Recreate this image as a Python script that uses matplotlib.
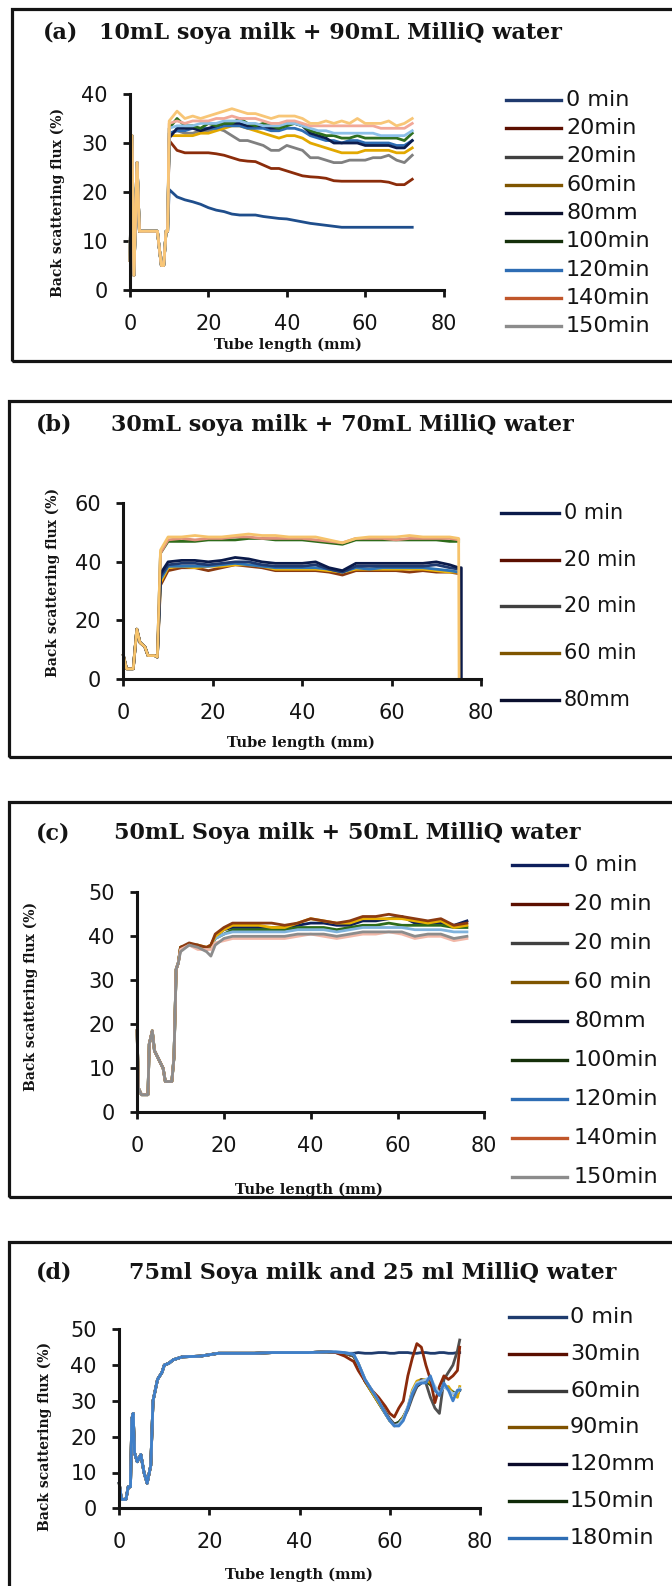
import numpy as np
import matplotlib
matplotlib.use('Agg')
import matplotlib.pyplot as plt
from matplotlib.lines import Line2D
from matplotlib.patches import Rectangle

# ------------------------------------------------------------
# data: back scattering flux (%) vs tube length (mm)
# ------------------------------------------------------------

# (a) 10 mL soya milk + 90 mL MilliQ water
a_x_start = [0, 0.5, 1, 1.8, 2.4, 4, 7, 7.4, 8, 8.6, 9.2, 9.6]
a_y_start = [6, 31.5, 3, 26, 12, 12, 12, 9, 5, 5, 12, 12]
a_x = list(range(10, 73, 2))
a_0min = [20.5, 19, 18.4, 18, 17.5, 16.8, 16.3, 16, 15.5, 15.3, 15.3, 15.3, 15, 14.8, 14.6, 14.5,
          14.2, 13.9, 13.6, 13.4, 13.2, 13, 12.8, 12.8, 12.8, 12.8, 12.8, 12.8, 12.8, 12.8, 12.8, 12.8]
a_20min = [30.5, 28.5, 28, 28, 28, 28, 27.8, 27.5, 27, 26.5, 26.3, 26.2, 25.5, 24.8, 24.8, 24.3,
           23.8, 23.3, 23.1, 23, 22.8, 22.3, 22.2, 22.2, 22.2, 22.2, 22.2, 22.2, 22, 21.5, 21.5, 22.6]
a_150min = [32, 32.5, 32, 32, 32.5, 32.5, 33, 32.5, 31.5, 30.5, 30.5, 30, 29.5, 28.5, 28.5, 29.5,
            29, 28.5, 27, 27, 26.5, 26, 26, 26.5, 26.5, 26.5, 27, 27, 27.5, 26.5, 26, 27.5]
a_60min = [31.5, 31.5, 31.5, 31.5, 32, 32, 32.5, 33, 33.5, 33.5, 33, 32.5, 32, 31.5, 31, 31.5,
           31.5, 31, 30, 29.5, 29, 28.5, 28, 28, 28, 28.5, 28.5, 28.5, 28.5, 28, 28, 29]
a_80min = [31, 33, 33, 33, 32.5, 33, 33.5, 34, 34, 34, 33.5, 33.5, 33.5, 33, 33, 34,
           34, 33.5, 32, 31.5, 31, 30, 30, 30, 30, 29.5, 29.5, 29.5, 29.5, 29, 29, 30.5]
a_100min = [33, 35, 33.5, 33.5, 33, 34, 33.5, 34, 34, 35, 34, 33.5, 34, 33.5, 33, 33.5,
            34, 33.5, 32.5, 32, 31.5, 31.5, 31, 31, 31.5, 31, 31, 31, 31, 31, 30.5, 32]
a_120min = [32, 32.5, 32.5, 33, 33, 33, 33, 33.5, 33.5, 33.5, 33, 33, 33, 32.5, 32.5, 33,
            33, 32.5, 31.5, 31, 30.5, 30.5, 30, 30.5, 30.5, 30, 30, 30, 30, 29.5, 29.5, 30.5]
a_140min = [34, 34.5, 34, 34.5, 34.5, 34.5, 35, 35, 35.5, 35, 35, 35, 34.5, 34, 34, 34.5,
            34.5, 34, 33.5, 33.5, 33.5, 33.5, 33.5, 33.5, 33.5, 33.5, 33.5, 33, 33, 33, 33, 34]
a_160min = [33, 33.5, 33.5, 33.5, 34, 34, 34, 34.5, 34.5, 34.5, 34, 34, 33.5, 33.5, 33.5, 34,
            34, 33.5, 33, 32.5, 32.5, 32, 32, 32, 32, 32, 32, 31.5, 31.5, 31.5, 31.5, 32.5]
a_180min = [34.5, 36.5, 35, 35.5, 35, 35.5, 36, 36.5, 37, 36.5, 36, 36, 35.5, 35, 35.5, 35.5,
            35.5, 35, 34, 34, 34.5, 34, 34.5, 34, 35, 34, 34, 34, 34.5, 33.5, 34, 35]
a_labels = ['0 min', '20min', '20min', '60min', '80mm', '100min', '120min', '140min', '150min']

# (b) 30 mL soya milk + 70 mL MilliQ water
b_x_start = [0, 0.7, 2.2, 3, 3.7, 4.8, 5.5, 7, 7.6]
b_y_start = [8, 3.5, 3.5, 17, 12.5, 11, 8, 8, 7.5]
b_x = [8.3, 10, 13, 16, 19, 22, 25, 28, 31, 34, 37, 40, 43, 46, 49, 52, 55, 58, 61, 64, 67, 70, 73, 75]
b_0min = [36, 40, 40.5, 40.5, 40, 40.5, 41.5, 41, 40, 39.5, 39.5, 39.5, 40, 38, 37, 39.5,
          39.5, 39.5, 39.5, 39.5, 39.5, 40, 39, 38]
b_20min = [32, 37, 38, 38, 37, 38, 39, 38.5, 38, 37, 37, 37, 37, 36.5, 35.5, 37,
           37, 37, 37, 36.5, 37, 36.5, 36.5, 36]
b_40min = [34, 38.5, 38.5, 38.5, 38.5, 39, 39.5, 39, 38.5, 38, 38, 38, 38, 37.5, 36.5, 38,
           37.5, 38, 38, 38, 38, 37.5, 37, 36.5]
b_60min = [33, 38, 38.5, 38, 38.5, 38.5, 39, 39, 38.5, 37.5, 37.5, 37.5, 37.5, 37, 36.5, 37.5,
           37.5, 37.5, 37.5, 37.5, 37.5, 37, 36.5, 36.5]
b_80min = [35, 39, 39.5, 39.5, 39, 39.5, 40, 40, 39, 38.5, 38.5, 38.5, 39, 37.5, 36.5, 38.5,
           38.5, 38.5, 38.5, 38.5, 38.5, 39, 38, 37.5]
b_100min = [43, 47, 47, 47, 47.5, 47.5, 47.5, 48, 48, 47.5, 47.5, 47.5, 47, 46.5, 46, 47.5,
            47.5, 47.5, 47.5, 47.5, 47.5, 47.5, 47, 47]
b_140min = [43, 47.5, 48, 47.5, 48, 48, 48.5, 48.5, 48, 48, 48, 48, 47.5, 47, 46.5, 48,
            48, 48, 47.5, 48, 48, 48, 48, 47.5]
b_180min = [44, 48.5, 48.5, 49, 48.5, 48.5, 49, 49.5, 49, 49, 48.5, 48.5, 48.5, 47.5, 46.5, 48,
            48.5, 48.5, 48.5, 49, 48.5, 48.5, 48.5, 48]
b_end_0min = 75.6
b_end_180min = 75.1
b_labels = ['0 min', '20 min', '20 min', '60 min', '80mm']

# (c) 50 mL soya milk + 50 mL MilliQ water
c_x_start = [0, 0.3, 1, 2.5, 2.8, 3.5, 4, 5, 6, 6.5, 8, 8.5, 9, 9.5]
c_y_start = [18.5, 5.5, 4, 4, 15.5, 18.5, 14, 12, 10, 7, 7, 12.5, 32.5, 34]
c_x = [10, 12, 14, 16, 17, 18, 20, 22, 25, 28, 31, 34, 37, 40, 43, 46, 49, 52, 55, 58, 61, 64, 67, 70, 73, 76]
c_0min = [37.5, 38, 38, 37, 38, 40, 41.5, 42, 42, 42, 42, 42, 42.5, 43, 43, 42.5,
          42.5, 43.5, 43.5, 44, 44.5, 43, 43, 43, 42.5, 43.5]
c_20min = [37.5, 38.5, 38, 37.5, 38, 40.5, 42, 43, 43, 43, 43, 42.5, 43, 44, 43.5, 43,
           43.5, 44.5, 44.5, 45, 44.5, 44, 43.5, 44, 42.5, 43]
c_60min = [37.5, 38, 38, 37.5, 38, 40, 41.5, 42.5, 42.5, 42.5, 42, 42, 43, 44, 43.5, 43,
           43, 44, 44, 44, 44, 43.5, 43, 43.5, 42, 42.5]
c_100min = [37.5, 38, 37.5, 37, 37.5, 39.5, 40.5, 41.5, 41.5, 41.5, 41.5, 41.5, 42, 42, 42, 41.5,
            42, 42.5, 42.5, 43, 42.5, 42.5, 42.5, 42.5, 42, 42]
c_120min = [37, 38, 37.5, 37.5, 38, 39.5, 40.5, 41, 41, 41, 41, 41, 41.5, 41.5, 41.5, 41,
            41.5, 42, 42, 42, 42, 41.5, 41.5, 41.5, 41, 41]
c_140min = [37, 38, 37, 37, 37, 38.5, 39, 39.5, 39.5, 39.5, 39.5, 39.5, 40, 40.5, 40, 39.5,
            40, 40.5, 40.5, 41, 40.5, 39.5, 40, 40, 39, 39.5]
c_150min = [36.5, 38, 37.5, 36.5, 35.5, 38, 39.5, 40, 40, 40, 40, 40, 40.5, 40.5, 40.5, 40,
            40.5, 41, 41, 41, 41, 40, 40.5, 40.5, 39.5, 40]
c_labels = ['0 min', '20 min', '20 min', '60 min', '80mm', '100min', '120min', '140min', '150min']

# (d) 75 mL soya milk and 25 mL MilliQ water
d_x_start = [0, 0.5, 1.5, 2, 2.5, 2.8, 3.1, 3.4, 4, 4.8, 5.5, 6.2, 7, 7.5,
             8.5, 9.5, 10, 11, 12, 14, 18, 22, 26, 30, 34, 38, 42, 46]
d_y_start = [7, 2.5, 2.5, 6, 6, 25, 26.5, 15.5, 13, 15, 10, 7, 12, 30,
             36, 38, 40, 40.5, 41.5, 42.3, 42.5, 43.3, 43.3, 43.3, 43.5, 43.5, 43.5, 43.7]
d_x = [48, 50, 52, 53, 54.5, 56, 57.5, 59, 60, 61, 62, 63, 64, 65, 66, 67, 68, 69, 70, 71, 72, 73, 74, 75, 75.5]
d_0min = [43.5, 43.3, 43.3, 43.5, 43.3, 43.3, 43.5, 43.5, 43.3, 43.3, 43.5, 43.5, 43.5,
          43.3, 43.3, 43.5, 43.5, 43.3, 43.3, 43.5, 43.5, 43.3, 43.3, 43.5, 43.5]
d_30min = [43.5, 42.5, 41, 38.5, 35.5, 33, 31, 28.5, 26.5, 25.5, 28, 30, 37,
           42, 46, 45, 40, 36, 29.5, 34, 37, 36, 37, 38.5, 45]
d_60min = [43.5, 43.3, 42.5, 40.5, 36, 33, 30.5, 27, 25, 23.5, 23.5, 25, 27.5,
           31, 34, 36, 35, 31, 28, 26.5, 36, 38, 40, 44, 47]
d_90min = [43.5, 43.3, 42.5, 40.5, 35.5, 32.5, 29.5, 26.5, 24.5, 23, 23.5, 25.5, 28,
           33, 35.5, 36, 36, 35, 33, 32, 34, 34, 32, 31, 34]
d_120min = [43.5, 43.3, 42.5, 40, 35.5, 32.5, 29.5, 26.5, 24.5, 23.5, 24, 25.5, 28,
            32, 34, 35, 35.5, 35, 33, 32.5, 34, 33.5, 32, 32, 33]
d_150min = [43.5, 43.3, 42.5, 40, 35.5, 32.5, 29.5, 26.5, 24.5, 23.5, 24, 25.5, 28,
            32.5, 34.5, 35.5, 35.5, 34.5, 33, 32.5, 34, 33.5, 32.5, 32, 33]
d_165min = [43.7, 43.5, 43, 40.5, 36, 33, 30, 26.5, 24.5, 23, 23.5, 25, 28.5,
            32.5, 35, 35.5, 36, 36.5, 34, 32, 34, 33, 32, 32.5, 33.5]
d_180min = [43.7, 43.5, 43, 40.5, 36, 33, 30, 26.5, 24.5, 23, 23, 24.5, 28,
            32, 34.5, 35, 35, 37, 33, 31.5, 35, 33, 30, 33, 33]
d_labels = ['0 min', '30min', '60min', '90min', '120mm', '150min', '180min']

# ------------------------------------------------------------
# figure layout (pixel helpers)
# ------------------------------------------------------------
W, H = 672, 1586
fig = plt.figure(figsize=(W / 100, H / 100), dpi=100)
INK = '#141414'


def fx(px):
    return px / W


def fy(py):
    return 1 - py / H


def panel_box(left, top, bottom):
    fig.add_artist(Rectangle((fx(left), fy(bottom)), fx(720) - fx(left), (bottom - top) / H,
                             transform=fig.transFigure, fill=False, lw=2.3, ec=INK))


def make_axes(left, right, top, bottom, ymax, ystep):
    ax = fig.add_axes([fx(left), fy(bottom), fx(right) - fx(left), (bottom - top) / H])
    ax.set_xlim(0, 80)
    ax.set_ylim(0, ymax)
    ax.set_xticks(np.arange(0, 81, 20))
    ax.set_yticks(np.arange(0, ymax + 1, ystep))
    for s in ('top', 'right'):
        ax.spines[s].set_visible(False)
    for s in ('left', 'bottom'):
        ax.spines[s].set_linewidth(2.2)
        ax.spines[s].set_color(INK)
    ax.tick_params(direction='out', length=5, width=2, color=INK,
                   labelsize=15, labelcolor=INK)
    ax.tick_params(axis='x', pad=12)
    ax.tick_params(axis='y', pad=11)
    ax.patch.set_alpha(0)
    return ax


def draw_series(ax, xs, ys, x_tail, tail, color, lw=2.0):
    ax.plot(list(xs) + list(x_tail), list(ys) + list(tail), color=color, lw=lw, clip_on=False)


def titles(tag, text, tag_x, text_x, y):
    fig.text(fx(tag_x), fy(y), tag, fontsize=16, family='DejaVu Serif', weight='bold',
             va='center', ha='left', color=INK)
    fig.text(fx(text_x), fy(y), text, fontsize=16, family='DejaVu Serif', weight='bold',
             va='center', ha='left', color=INK)


def axis_labels(xl_x, xl_y, yl_x, yl_y):
    fig.text(fx(xl_x), fy(xl_y), 'Tube length (mm)', fontsize=10.5, family='DejaVu Serif',
             weight='bold', ha='center', va='center', color=INK)
    fig.text(fx(yl_x), fy(yl_y), 'Back scattering flux (%)', fontsize=10, family='DejaVu Serif',
             weight='bold', ha='center', va='center', rotation=90, color=INK)


def legend(labels, colors, x0, x1, xt, y0, step, size=16):
    for i, (lab, col) in enumerate(zip(labels, colors)):
        y = y0 + i * step
        fig.add_artist(Line2D([fx(x0), fx(x1)], [fy(y), fy(y)], color=col, lw=2.4,
                              transform=fig.transFigure))
        fig.text(fx(xt), fy(y), lab, fontsize=size, va='center', ha='left', color=INK)


# ------------------------------------------------------------
# (a)
# ------------------------------------------------------------
panel_box(12, 9, 361)
ax = make_axes(130, 443.6, 94, 290, 40, 10)
a_lines = [(a_0min, '#1F4E8C'), (a_20min, '#8B2C0A'), (a_150min, '#808080'),
           (a_60min, '#E2A800'), (a_120min, '#2E6DB4'), (a_80min, '#0B1D4F'),
           (a_100min, '#2F6F1F'), (a_160min, '#8CC0E8'), (a_140min, '#F2A898'),
           (a_180min, '#F8C677')]
for vals, col in a_lines:
    draw_series(ax, a_x_start, a_y_start, a_x, vals, col)
titles('(a)', '10mL soya milk + 90mL MilliQ water', 43, 99, 33)
axis_labels(288, 345, 58, 202)
legend(a_labels, ['#1F3A6E', '#5C0F00', '#404040', '#7F5500', '#0A0F2E', '#15300A',
                  '#2E6DB4', '#C0562A', '#8C8C8C'], 506, 561, 566, 100, 28.25)

# ------------------------------------------------------------
# (b)
# ------------------------------------------------------------
panel_box(9.4, 401, 757)
ax = make_axes(123.4, 481, 503.3, 679, 60, 20)
b_lines = [(b_20min, '#8B3A10'), (b_60min, '#F2B705'), (b_40min, '#2E75B6'),
           (b_80min, '#1F3A70'), (b_100min, '#2E6B1A'), (b_140min, '#E0907A')]
for vals, col in b_lines:
    draw_series(ax, b_x_start, b_y_start, b_x, vals, col)
draw_series(ax, b_x_start, b_y_start, b_x + [b_end_0min, b_end_0min],
            b_0min + [b_0min[-1], 0], '#0A1A4A')
draw_series(ax, b_x_start, b_y_start, b_x + [b_end_180min],
            b_180min + [0], '#F6C36B')
titles('(b)', '30mL soya milk + 70mL MilliQ water', 36, 111, 425)
axis_labels(301, 743, 53, 582)
legend(b_labels, ['#0A1A4A', '#5C0F00', '#404040', '#7F5500', '#0A0F2E'],
       501, 559, 564, 513, 46.75, size=15)

# ------------------------------------------------------------
# (c)
# ------------------------------------------------------------
panel_box(9.4, 802, 1197)
ax = make_axes(137.1, 484.3, 892.3, 1112.3, 50, 10)
c_lines = [(c_0min, '#0D1F5C'), (c_100min, '#2E6B1A'), (c_120min, '#7FB2DC'),
           (c_60min, '#E8B000'), (c_20min, '#8B3A10'), (c_140min, '#F2B8A8'),
           (c_150min, '#8C8C8C')]
for vals, col in c_lines:
    draw_series(ax, c_x_start, c_y_start, c_x, vals, col)
titles('(c)', '50mL Soya milk + 50mL MilliQ water', 36, 114, 833)
axis_labels(309, 1190, 31, 996)
legend(c_labels, ['#0D1F5C', '#5C0F00', '#404040', '#7F5500', '#0A0F2E', '#15300A',
                  '#2E6DB4', '#C0562A', '#8C8C8C'], 512, 567, 574, 865, 39)

# ------------------------------------------------------------
# (d)
# ------------------------------------------------------------
panel_box(9.4, 1242, 1620)
ax = make_axes(119.2, 480, 1329.3, 1508.3, 50, 10)
d_lines = [(d_0min, '#1F3C6E'), (d_120min, '#0A0F2E'), (d_150min, '#1E4A12'),
           (d_90min, '#D9A400'), (d_60min, '#505050'), (d_30min, '#8B2A0B'),
           (d_165min, '#9CC3E6'), (d_180min, '#3F7FC8')]
for vals, col in d_lines:
    draw_series(ax, d_x_start, d_y_start, d_x, vals, col)
titles('(d)', '75ml Soya milk and 25 ml MilliQ water', 36, 129, 1273)
axis_labels(299, 1575, 45, 1436)
legend(d_labels, ['#1F3C6E', '#5A0E00', '#3A3A3A', '#7F5200', '#0A0A2A', '#0F2A08',
                  '#2E6DB4'], 509, 566, 570, 1317, 36.8)

fig.savefig('out.png', dpi=100)
